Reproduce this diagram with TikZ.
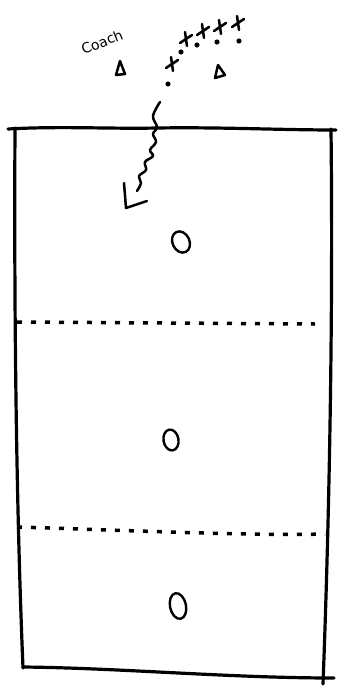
\documentclass[tikz,border=0pt]{standalone}
\usepackage{fontspec}
\setsansfont{DejaVu Sans}
\begin{document}
\begin{tikzpicture}[x=1pt,y=-1pt,
  ink/.style={line width=3.2pt,line cap=round,line join=round},
  pen/.style={line width=2.5pt,line cap=round,line join=round},
  dashline/.style={line width=3.5pt,dash pattern=on 5pt off 9pt},
  player/.style={line width=2.4pt},
  coachtext/.style={font=\sffamily\fontsize{14}{14}\selectfont,rotate=22}]
\useasboundingbox (0,0) rectangle (343,688);
% field outline
\draw[ink] (8,129) .. controls (60,126) and (110,129) .. (157,128) .. controls (220,127) and (280,130) .. (336,130);
\draw[ink] (15,128) .. controls (14,300) and (16,500) .. (23,668);
\draw[ink] (331,129) .. controls (333,300) and (330,500) .. (323,684);
\draw[ink] (23,667) .. controls (120,668) and (230,678) .. (334,678);
% dashed lines
\draw[dashline] (17,322) -- (315,324);
\draw[dashline] (17,527) .. controls (120,530) and (250,536) .. (325,534);
% circles (players)
\draw[player,rotate around={25:(181,242)}] (181,242) ellipse (8.5pt and 11pt);
\draw[player,rotate around={10:(171,440)}] (171,440) ellipse (7.5pt and 10.5pt);
\draw[player,rotate around={12:(178,606)}] (178,606) ellipse (8pt and 13pt);
% coach label and triangles
\node[coachtext] (coach) at (102,42) {Coach};
\draw[pen] (120,61) -- (116,75) -- (125,74) -- cycle;
\draw[pen] (218,65) -- (215,78) -- (225,75) -- cycle;
% x marks
\foreach \px/\py in {172/64,186/39,203/31,220/27,238/23}{
  \draw[pen] (\px-6,\py+4) -- (\px+6,\py-4);
  \draw[pen] (\px-1,\py-7) -- (\px+1,\py+7);
}
% dots
\foreach \px/\py in {168/84,181/52,197/45,217/42,239/41}{
  \fill (\px,\py) circle (2.6pt);
}
% wavy run
\draw[pen] plot[smooth,tension=0.6] coordinates {(160,102) (153,116) (157,127) (153,134) (156,142) (150,150) (153,156) (145,162) (146,170) (139,176) (141,183) (137,191)};
% L mark
\draw[pen] (124,183) -- (126,208) -- (147,201);
\end{tikzpicture}
\end{document}
